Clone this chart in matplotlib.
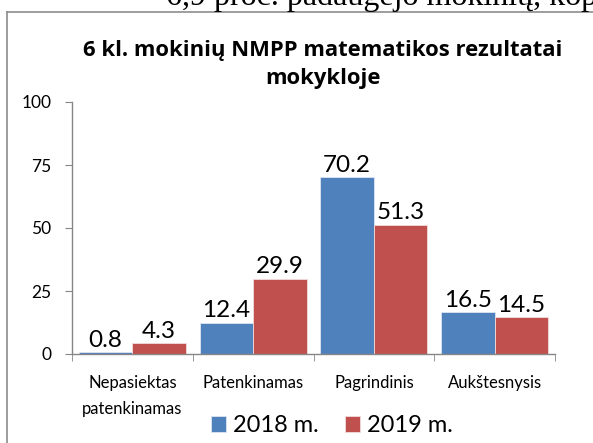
import matplotlib
matplotlib.use("Agg")
import matplotlib.pyplot as plt
import numpy as np
from matplotlib.lines import Line2D

# data
categories = ["Nepasiektas\npatenkinamas", "Patenkinamas", "Pagrindinis", "Aukštesnysis"]
values_2018 = [0.8, 12.4, 70.2, 16.5]
values_2019 = [4.3, 29.9, 51.3, 14.5]
series_names = ["2018 m.", "2019 m."]
y_ticks = [0, 25, 50, 75, 100]

blue = "#4F81BD"
red = "#C0504D"
axis_grey = "#868686"

plt.rcParams['font.family'] = ['Lato', 'DejaVu Sans']

fig = plt.figure(figsize=(5.93, 4.43), dpi=100)
ax = fig.add_axes([72/593, 1-354/443, (555-72)/593, (354-102)/443])

x = np.arange(len(categories))
w = 0.443
b1 = ax.bar(x - w/2, values_2018, w, color=blue, edgecolor="#dce6f2", linewidth=0.6, label=series_names[0])
b2 = ax.bar(x + w/2, values_2019, w, color=red, edgecolor="#f2dcdb", linewidth=0.6, label=series_names[1])

for bars in (b1, b2):
    ax.bar_label(bars, labels=[f"{v:.1f}" for v in bars.datavalues], padding=1, fontsize=17.5)

ax.set_xlim(-0.5, len(categories) - 0.5)
ax.set_ylim(0, 100)
ax.set_yticks(y_ticks)
ax.tick_params(axis="y", labelsize=12.5, length=5, color=axis_grey, pad=10)
ax.set_xticks(x)
ax.set_xticklabels(categories, fontsize=12, linespacing=1.75)
ax.tick_params(axis="x", which="major", length=0, pad=15)
ax.set_xticks(np.arange(-0.5, len(categories)), minor=True)
ax.tick_params(axis="x", which="minor", length=5, color=axis_grey)

for s in ("top", "right"):
    ax.spines[s].set_visible(False)
for s in ("left", "bottom"):
    ax.spines[s].set_color(axis_grey)
    ax.spines[s].set_linewidth(1.0)

fig.text(323/593, 1-40/443, "6 kl. mokinių NMPP matematikos rezultatai\nmokykloje", fontsize=15.8,
         fontweight="bold", family=["Open Sans", "DejaVu Sans"], ha="center", va="top",
         linespacing=1.45)

fig.legend(handles=[b1, b2], labels=series_names, loc="center", bbox_to_anchor=(332/593, 1-426/443),
           ncol=2, frameon=False, fontsize=17, handlelength=0.65, handleheight=0.65,
           handletextpad=0.3, columnspacing=1.1)

# chart frame (only left and top visible in the cropped picture)
fig.add_artist(Line2D([7/593, 7/593], [0, 1-12/443], color="#8c8c8c", lw=1.2, transform=fig.transFigure))
fig.add_artist(Line2D([7/593, 1], [1-12/443, 1-12/443], color="#8c8c8c", lw=1.2, transform=fig.transFigure))

# cut-off document text above the chart
fig.text(166/593, 1-5/443, "6,9 proc. padaugėjo mokinių, kop", fontsize=23,
         family=["Liberation Serif", "DejaVu Serif"], va="baseline", ha="left")

fig.savefig("out.png", dpi=100)
